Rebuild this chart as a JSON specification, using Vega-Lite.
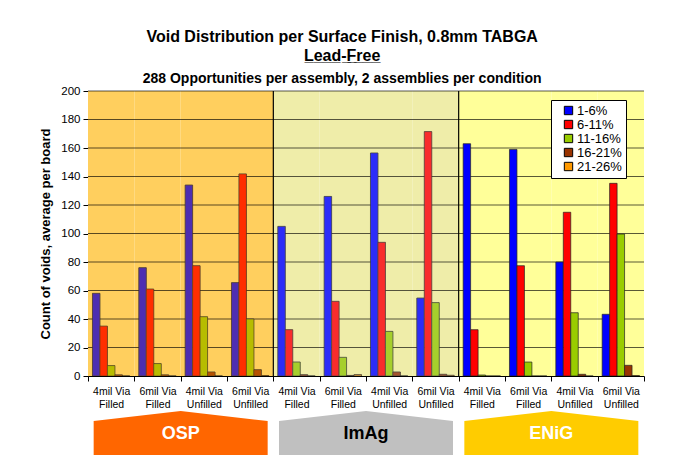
{
  "$schema": "https://vega.github.io/schema/vega-lite/v6.json",
  "background": "white",
  "padding": {"left": 39, "top": 29, "right": 5, "bottom": 0},
  "title": {
    "text": ["Void Distribution per Surface Finish, 0.8mm TABGA", "L\u0332e\u0332a\u0332d\u0332-\u0332F\u0332r\u0332e\u0332e\u0332"],
    "subtitle": "288 Opportunities per assembly, 2 assemblies per condition",
    "font": "Liberation Sans",
    "fontSize": 16,
    "fontWeight": "bold",
    "lineHeight": 19,
    "color": "black",
    "subtitleFont": "Liberation Sans",
    "subtitleFontSize": 14,
    "subtitleFontWeight": "bold",
    "subtitleColor": "black",
    "subtitlePadding": 8,
    "anchor": "middle",
    "offset": -1
  },
  "datasets": {
    "voids": [
      {"section": "OSP", "cat": "OSP|4mil Via|Filled", "series": "1-6%", "value": 58},
      {"section": "OSP", "cat": "OSP|4mil Via|Filled", "series": "6-11%", "value": 35},
      {"section": "OSP", "cat": "OSP|4mil Via|Filled", "series": "11-16%", "value": 7.3},
      {"section": "OSP", "cat": "OSP|4mil Via|Filled", "series": "16-21%", "value": 0.8},
      {"section": "OSP", "cat": "OSP|4mil Via|Filled", "series": "21-26%", "value": 0},
      {"section": "OSP", "cat": "OSP|6mil Via|Filled", "series": "1-6%", "value": 76},
      {"section": "OSP", "cat": "OSP|6mil Via|Filled", "series": "6-11%", "value": 61},
      {"section": "OSP", "cat": "OSP|6mil Via|Filled", "series": "11-16%", "value": 8.7},
      {"section": "OSP", "cat": "OSP|6mil Via|Filled", "series": "16-21%", "value": 0.8},
      {"section": "OSP", "cat": "OSP|6mil Via|Filled", "series": "21-26%", "value": 0},
      {"section": "OSP", "cat": "OSP|4mil Via|Unfilled", "series": "1-6%", "value": 134},
      {"section": "OSP", "cat": "OSP|4mil Via|Unfilled", "series": "6-11%", "value": 77.4},
      {"section": "OSP", "cat": "OSP|4mil Via|Unfilled", "series": "11-16%", "value": 41.6},
      {"section": "OSP", "cat": "OSP|4mil Via|Unfilled", "series": "16-21%", "value": 2.8},
      {"section": "OSP", "cat": "OSP|4mil Via|Unfilled", "series": "21-26%", "value": 0},
      {"section": "OSP", "cat": "OSP|6mil Via|Unfilled", "series": "1-6%", "value": 65.5},
      {"section": "OSP", "cat": "OSP|6mil Via|Unfilled", "series": "6-11%", "value": 141.8},
      {"section": "OSP", "cat": "OSP|6mil Via|Unfilled", "series": "11-16%", "value": 40},
      {"section": "OSP", "cat": "OSP|6mil Via|Unfilled", "series": "16-21%", "value": 4.4},
      {"section": "OSP", "cat": "OSP|6mil Via|Unfilled", "series": "21-26%", "value": 0.3},
      {"section": "ImAg", "cat": "ImAg|4mil Via|Filled", "series": "1-6%", "value": 105},
      {"section": "ImAg", "cat": "ImAg|4mil Via|Filled", "series": "6-11%", "value": 32.5},
      {"section": "ImAg", "cat": "ImAg|4mil Via|Filled", "series": "11-16%", "value": 9.8},
      {"section": "ImAg", "cat": "ImAg|4mil Via|Filled", "series": "16-21%", "value": 0.9},
      {"section": "ImAg", "cat": "ImAg|4mil Via|Filled", "series": "21-26%", "value": 0},
      {"section": "ImAg", "cat": "ImAg|6mil Via|Filled", "series": "1-6%", "value": 126},
      {"section": "ImAg", "cat": "ImAg|6mil Via|Filled", "series": "6-11%", "value": 52.4},
      {"section": "ImAg", "cat": "ImAg|6mil Via|Filled", "series": "11-16%", "value": 13.1},
      {"section": "ImAg", "cat": "ImAg|6mil Via|Filled", "series": "16-21%", "value": 0.4},
      {"section": "ImAg", "cat": "ImAg|6mil Via|Filled", "series": "21-26%", "value": 1},
      {"section": "ImAg", "cat": "ImAg|4mil Via|Unfilled", "series": "1-6%", "value": 156.5},
      {"section": "ImAg", "cat": "ImAg|4mil Via|Unfilled", "series": "6-11%", "value": 93.8},
      {"section": "ImAg", "cat": "ImAg|4mil Via|Unfilled", "series": "11-16%", "value": 31.3},
      {"section": "ImAg", "cat": "ImAg|4mil Via|Unfilled", "series": "16-21%", "value": 2.8},
      {"section": "ImAg", "cat": "ImAg|4mil Via|Unfilled", "series": "21-26%", "value": 0},
      {"section": "ImAg", "cat": "ImAg|6mil Via|Unfilled", "series": "1-6%", "value": 54.7},
      {"section": "ImAg", "cat": "ImAg|6mil Via|Unfilled", "series": "6-11%", "value": 171.5},
      {"section": "ImAg", "cat": "ImAg|6mil Via|Unfilled", "series": "11-16%", "value": 51.5},
      {"section": "ImAg", "cat": "ImAg|6mil Via|Unfilled", "series": "16-21%", "value": 1.2},
      {"section": "ImAg", "cat": "ImAg|6mil Via|Unfilled", "series": "21-26%", "value": 0.5},
      {"section": "ENiG", "cat": "ENiG|4mil Via|Filled", "series": "1-6%", "value": 163},
      {"section": "ENiG", "cat": "ENiG|4mil Via|Filled", "series": "6-11%", "value": 32.5},
      {"section": "ENiG", "cat": "ENiG|4mil Via|Filled", "series": "11-16%", "value": 0.7},
      {"section": "ENiG", "cat": "ENiG|4mil Via|Filled", "series": "16-21%", "value": 0},
      {"section": "ENiG", "cat": "ENiG|4mil Via|Filled", "series": "21-26%", "value": 0},
      {"section": "ENiG", "cat": "ENiG|6mil Via|Filled", "series": "1-6%", "value": 159},
      {"section": "ENiG", "cat": "ENiG|6mil Via|Filled", "series": "6-11%", "value": 77.4},
      {"section": "ENiG", "cat": "ENiG|6mil Via|Filled", "series": "11-16%", "value": 9.8},
      {"section": "ENiG", "cat": "ENiG|6mil Via|Filled", "series": "16-21%", "value": 0},
      {"section": "ENiG", "cat": "ENiG|6mil Via|Filled", "series": "21-26%", "value": 0},
      {"section": "ENiG", "cat": "ENiG|4mil Via|Unfilled", "series": "1-6%", "value": 80},
      {"section": "ENiG", "cat": "ENiG|4mil Via|Unfilled", "series": "6-11%", "value": 114.9},
      {"section": "ENiG", "cat": "ENiG|4mil Via|Unfilled", "series": "11-16%", "value": 44.4},
      {"section": "ENiG", "cat": "ENiG|4mil Via|Unfilled", "series": "16-21%", "value": 1.2},
      {"section": "ENiG", "cat": "ENiG|4mil Via|Unfilled", "series": "21-26%", "value": 0},
      {"section": "ENiG", "cat": "ENiG|6mil Via|Unfilled", "series": "1-6%", "value": 43.3},
      {"section": "ENiG", "cat": "ENiG|6mil Via|Unfilled", "series": "6-11%", "value": 135.2},
      {"section": "ENiG", "cat": "ENiG|6mil Via|Unfilled", "series": "11-16%", "value": 99.6},
      {"section": "ENiG", "cat": "ENiG|6mil Via|Unfilled", "series": "16-21%", "value": 7.5},
      {"section": "ENiG", "cat": "ENiG|6mil Via|Unfilled", "series": "21-26%", "value": 0.3}
    ],
    "gridlines": [
      {"v": 20}, {"v": 40}, {"v": 60}, {"v": 80}, {"v": 100},
      {"v": 120}, {"v": 140}, {"v": 160}, {"v": 180}, {"v": 200}
    ],
    "finishes": [
      {"section": "OSP"}, {"section": "ImAg"}, {"section": "ENiG"}
    ]
  },
  "vconcat": [
    {
      "width": 556,
      "height": 285,
      "layer": [
        {
          "data": {"name": "voids"},
          "transform": [{"filter": "datum.series === '1-6%'"}],
          "mark": {"type": "rect"},
          "encoding": {
            "x": {
              "field": "cat", "type": "nominal", "sort": null, "title": null,
              "scale": {"paddingInner": 0, "paddingOuter": 0},
              "axis": {
                "labelExpr": "slice(split(datum.value, '|'), 1)",
                "labelAngle": 0, "labelFontSize": 10.5, "labelLineHeight": 13,
                "labelPadding": 5, "tickBand": "extent", "tickSize": 5,
                "domainColor": "#000", "tickColor": "#000", "labelColor": "#000"
              }
            },
            "y": {
              "datum": 0, "type": "quantitative",
              "title": "Count of voids, average per board",
              "scale": {"domain": [0, 200], "nice": false}
            },
            "y2": {"datum": 200},
            "fill": {
              "condition": [
                {"test": "datum.section === 'OSP'", "value": "#FFCF5E"},
                {"test": "datum.section === 'ImAg'", "value": "#EFEDA9"}
              ],
              "value": "#FFFF99"
            }
          }
        },
        {
          "data": {"name": "gridlines"},
          "mark": {"type": "rule", "color": "#000", "opacity": 0.65, "strokeWidth": 1},
          "encoding": {
            "y": {"field": "v", "type": "quantitative", "title": "Count of voids, average per board"}
          }
        },
        {
          "data": {"name": "voids"},
          "transform": [{"filter": "datum.series === '1-6%' && datum.section !== 'OSP' && indexof(datum.cat, '4mil Via|Filled') >= 0"}],
          "mark": {"type": "rule", "color": "#000", "strokeWidth": 1.2},
          "encoding": {
            "x": {"field": "cat", "type": "nominal", "sort": null, "title": null, "bandPosition": 0},
            "y": {"datum": 0, "type": "quantitative", "title": "Count of voids, average per board"},
            "y2": {"datum": 200}
          }
        },
        {
          "data": {"name": "voids"},
          "mark": {"type": "bar", "stroke": "#222", "strokeWidth": 0.7},
          "encoding": {
            "x": {"field": "cat", "type": "nominal", "sort": null, "title": null},
            "xOffset": {
              "field": "series", "type": "nominal",
              "sort": ["1-6%", "6-11%", "11-16%", "16-21%", "21-26%"],
              "scale": {"paddingInner": 0, "paddingOuter": 0.6}
            },
            "y": {
              "field": "value", "type": "quantitative",
              "title": "Count of voids, average per board"
            },
            "color": {
              "field": "series", "type": "nominal",
              "sort": ["1-6%", "6-11%", "11-16%", "16-21%", "21-26%"],
              "scale": {
                "domain": ["1-6%", "6-11%", "11-16%", "16-21%", "21-26%"],
                "range": ["#0000FF", "#FF0000", "#99CC00", "#993300", "#FF9900"]
              },
              "legend": {
                "title": null, "orient": "none", "legendX": 463, "legendY": 9,
                "fillColor": "white", "strokeColor": "black", "padding": 4,
                "symbolType": "square", "symbolSize": 70,
                "symbolStrokeColor": "black", "symbolStrokeWidth": 1,
                "symbolOffset": 7,
                "labelFontSize": 13, "labelColor": "black", "labelOffset": 2,
                "labelExpr": "datum.label + '\u00a0\u00a0'",
                "rowPadding": 0
              }
            }
          }
        },
        {
          "data": {"name": "voids"},
          "transform": [{"filter": "datum.section === 'OSP'"}],
          "mark": {"type": "bar", "fill": "#FF9900", "fillOpacity": 0.3},
          "encoding": {
            "x": {"field": "cat", "type": "nominal", "sort": null, "title": null},
            "xOffset": {"field": "series", "type": "nominal", "sort": ["1-6%", "6-11%", "11-16%", "16-21%", "21-26%"]},
            "y": {"field": "value", "type": "quantitative", "title": "Count of voids, average per board"}
          }
        },
        {
          "data": {"name": "voids"},
          "transform": [{"filter": "datum.section === 'ImAg'"}],
          "mark": {"type": "bar", "fill": "#DDDDDD", "fillOpacity": 0.2},
          "encoding": {
            "x": {"field": "cat", "type": "nominal", "sort": null, "title": null},
            "xOffset": {"field": "series", "type": "nominal", "sort": ["1-6%", "6-11%", "11-16%", "16-21%", "21-26%"]},
            "y": {"field": "value", "type": "quantitative", "title": "Count of voids, average per board"}
          }
        }
      ]
    },
    {
      "width": 556,
      "height": 32,
      "data": {"name": "finishes"},
      "layer": [
        {
          "mark": {
            "type": "point", "filled": true, "opacity": 1,
            "shape": "M-1,-0.138 L0,-0.253 L1,-0.138 L1,0.253 L-1,0.253 Z",
            "size": 30276
          },
          "encoding": {
            "x": {"field": "section", "type": "nominal", "sort": null, "axis": null,
                  "scale": {"paddingInner": 0, "paddingOuter": 0}},
            "fill": {
              "field": "section", "type": "nominal", "legend": null,
              "scale": {"domain": ["OSP", "ImAg", "ENiG"], "range": ["#FF6600", "#C0C0C0", "#FFCC00"]}
            }
          }
        },
        {
          "mark": {"type": "text", "font": "Liberation Sans", "fontSize": 18, "fontWeight": "bold", "dy": 1},
          "encoding": {
            "x": {"field": "section", "type": "nominal", "sort": null, "axis": null},
            "text": {"field": "section"},
            "color": {
              "condition": {"test": "datum.section === 'ImAg'", "value": "#000"},
              "value": "#FFFFFF"
            }
          }
        }
      ]
    }
  ],
  "spacing": 0,
  "resolve": {"scale": {"color": "independent", "fill": "independent", "x": "independent"}, "legend": {"color": "independent", "fill": "independent"}},
  "config": {
    "font": "Liberation Sans",
    "view": {"stroke": null},
    "axis": {"labelFont": "Liberation Sans", "titleFont": "Liberation Sans"},
    "axisY": {
      "tickCount": 10, "labelOverlap": false, "grid": false,
      "labelFontSize": 11.5, "labelPadding": 3, "tickSize": 5,
      "titleFontSize": 13, "titleFontWeight": "bold", "titlePadding": 8,
      "domainColor": "#000", "tickColor": "#000", "labelColor": "#000", "titleColor": "#000"
    }
  }
}
